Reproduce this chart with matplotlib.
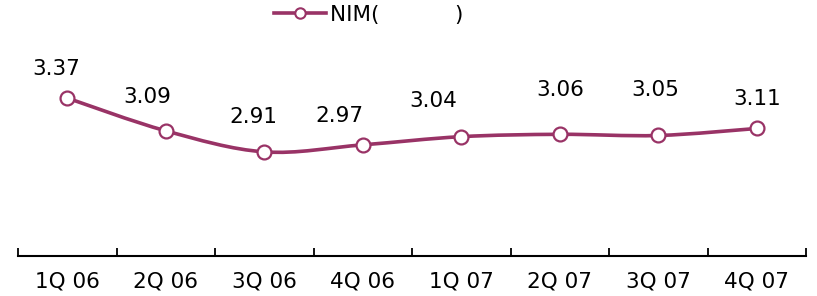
import numpy as np
import matplotlib.pyplot as plt
from matplotlib.path import Path
from matplotlib.patches import PathPatch
from matplotlib.lines import Line2D

quarters = ['1Q 06', '2Q 06', '3Q 06', '4Q 06', '1Q 07', '2Q 07', '3Q 07', '4Q 07']
nim = [3.37, 3.09, 2.91, 2.97, 3.04, 3.06, 3.05, 3.11]
legend_label = 'NIM(           )'

# label offsets in points (dx, dy) from each marker
label_dx = [-8, -13, -8, -17, -20, 0, -2, 0]
label_dy = [21, 24, 25, 21, 26, 32, 33, 21]

color = '#993366'

plt.rcParams['font.family'] = ['DejaVu Sans']
fig = plt.figure(figsize=(8.17, 2.96), dpi=100)
ax = fig.add_axes([18 / 817, 1 - 256 / 296, 788 / 817, 234 / 296])

x = np.arange(len(nim))
y = np.array(nim)

# smooth line (Catmull-Rom through the points, drawn as bezier path)
verts = [(x[0], y[0])]
codes = [Path.MOVETO]
for i in range(len(x) - 1):
    p0 = np.array([x[max(i - 1, 0)], y[max(i - 1, 0)]])
    p1 = np.array([x[i], y[i]])
    p2 = np.array([x[i + 1], y[i + 1]])
    p3 = np.array([x[min(i + 2, len(x) - 1)], y[min(i + 2, len(x) - 1)]])
    c1 = p1 + (p2 - p0) / 6
    c2 = p2 - (p3 - p1) / 6
    verts += [tuple(c1), tuple(c2), tuple(p2)]
    codes += [Path.CURVE4] * 3
ax.add_patch(PathPatch(Path(verts, codes), fill=False, edgecolor=color, lw=2.6, zorder=2))
ax.plot(x, y, linestyle='none', marker='o', ms=10, mfc='white', mec=color, mew=1.6, zorder=3)

for xi, yi, dx, dy in zip(x, y, label_dx, label_dy):
    ax.annotate(f'{yi:.2f}', (xi, yi), xytext=(dx, dy), textcoords='offset points',
                ha='center', va='center', fontsize=15.5, color='black')

ax.set_xlim(-0.5, len(nim) - 0.5)
ax.set_ylim(2.02, 4.02)
ax.set_xticks(x)
ax.set_xticklabels(quarters, fontsize=15.5)
ax.set_xticks(np.arange(-0.5, len(nim), 1), minor=True)
ax.tick_params(axis='x', which='major', length=0, pad=11)
ax.tick_params(axis='x', which='minor', length=6, width=1.3, direction='in')
ax.set_yticks([])
for s in ['top', 'right', 'left']:
    ax.spines[s].set_visible(False)
ax.spines['bottom'].set_linewidth(1.5)

handle = Line2D([], [], color=color, lw=2.6, marker='o', ms=7.5, mfc='white', mec=color, mew=1.5)
fig.legend([handle], [legend_label], loc='center', bbox_to_anchor=(369 / 817, 1 - 15 / 296),
           frameon=False, fontsize=15.5, handlelength=2.4, handletextpad=0.2)

fig.savefig('out.png', dpi=100)
